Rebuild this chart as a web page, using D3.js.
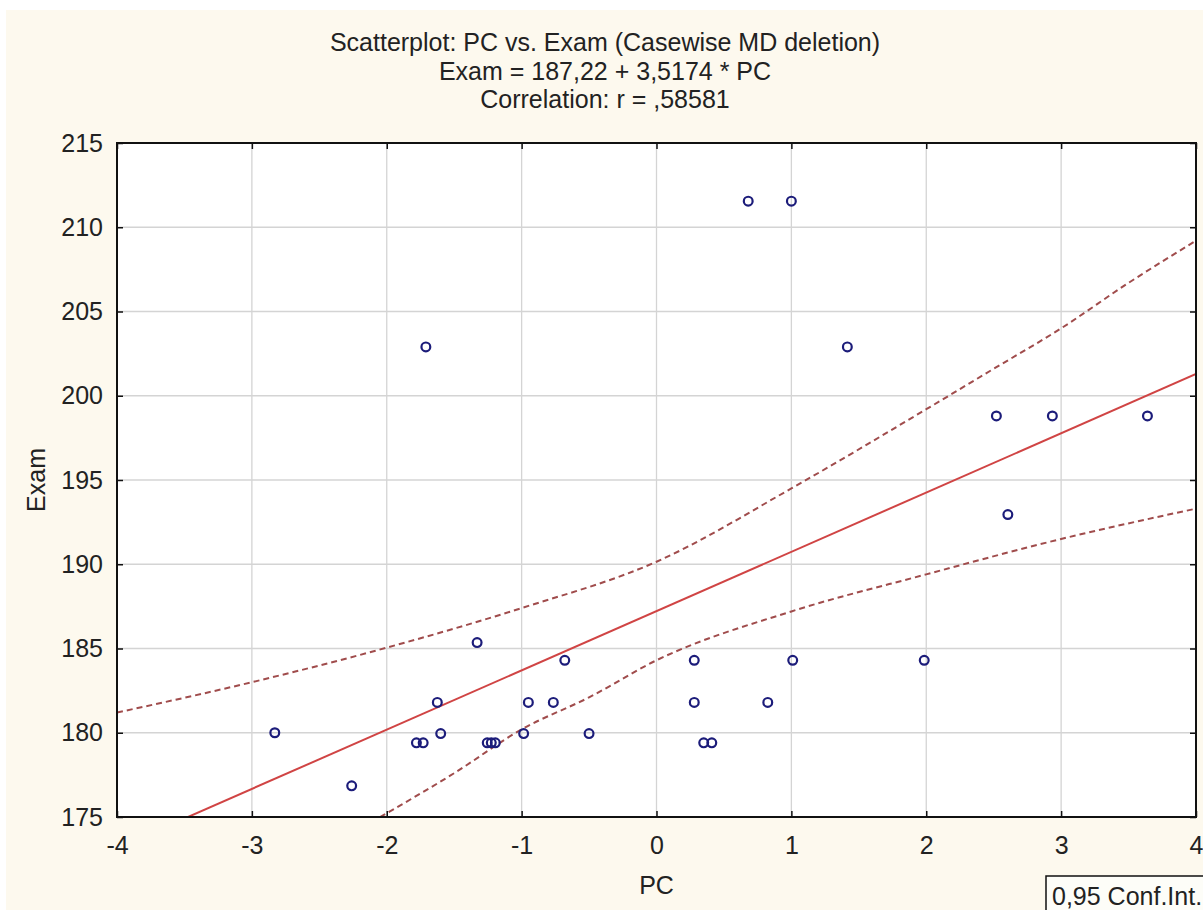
<!DOCTYPE html>
<html>
<head>
<meta charset="utf-8">
<script src="https://cdn.jsdelivr.net/npm/d3@7"></script>
<style>
  html, body { margin: 0; padding: 0; background: #ffffff; }
  svg { display: block; }
  text { font-family: "Liberation Sans", Arial, sans-serif; fill: #222; }
</style>
</head>
<body>
<script>
// ---- data ----
const pcValues   = [-2.83, -2.26, -1.71, -1.33, -1.625, -1.60, -1.78, -1.73, -1.255, -1.225, -1.195,
                    -0.95, -0.985, -0.765, -0.68, -0.50, 0.28, 0.28, 0.35, 0.41,
                     0.68, 1.00, 1.01, 0.825, 1.415, 1.985, 2.52, 2.605, 2.935, 3.64];
const examValues = [180.0, 176.85, 202.9, 185.35, 181.8, 179.95, 179.4, 179.4, 179.4, 179.4, 179.4,
                    181.8, 179.95, 181.8, 184.3, 179.95, 184.3, 181.8, 179.4, 179.4,
                    211.55, 211.55, 184.3, 181.8, 202.9, 184.3, 198.8, 192.95, 198.8, 198.8];
const intercept = 187.22;
const slope = 3.5174;
const upperBandX = [-4, -3, -2, -1, 0, 1, 2, 2.5, 3, 3.5, 4];
const upperBandY = [181.2, 183.0, 185.05, 187.4, 190.15, 194.5, 199.2, 201.6, 204.0, 206.7, 209.2];
const lowerBandX = [-2.05, -1.5, -1, -0.5, 0, 1, 2, 3, 4];
const lowerBandY = [175.0, 177.6, 180.2, 182.1, 184.3, 187.2, 189.4, 191.5, 193.3];
const xTicks = [-4, -3, -2, -1, 0, 1, 2, 3, 4];
const yTicks = [175, 180, 185, 190, 195, 200, 205, 210, 215];
const titleLines = ["Scatterplot: PC vs. Exam (Casewise MD deletion)",
                    "Exam = 187,22 + 3,5174 * PC",
                    "Correlation: r = ,58581"];
const xLabel = "PC", yLabel = "Exam", legendLabel = "0,95 Conf.Int.";

// ---- layout ----
const W = 1203, H = 910;
const FS = 25;
const plot = { left: 117, right: 1196, top: 143, bottom: 817 };
const svg = d3.select("body").append("svg").attr("width", W).attr("height", H);

svg.append("rect").attr("x", 6).attr("y", 10).attr("width", W - 6).attr("height", H - 10)
   .attr("fill", "#fdf9ee");

const x = d3.scaleLinear().domain([-4, 4]).range([plot.left, plot.right]);
const y = d3.scaleLinear().domain([175, 215]).range([plot.bottom, plot.top]);
const fmtComma = d => String(d).replace(".", ",");

svg.append("rect").attr("x", plot.left).attr("y", plot.top)
   .attr("width", plot.right - plot.left).attr("height", plot.bottom - plot.top)
   .attr("fill", "#ffffff");

// grid
const grid = svg.append("g");
grid.selectAll("line.vx").data(xTicks.slice(1, -1)).join("line")
   .attr("x1", d => x(d)).attr("x2", d => x(d)).attr("y1", plot.top).attr("y2", plot.bottom)
   .attr("stroke", "#d4d4d4").attr("stroke-width", 1.3);
grid.selectAll("line.hy").data(yTicks.slice(1, -1)).join("line")
   .attr("y1", d => y(d)).attr("y2", d => y(d)).attr("x1", plot.left).attr("x2", plot.right)
   .attr("stroke", "#d4d4d4").attr("stroke-width", 1.3);

// clip
svg.append("clipPath").attr("id", "clip").append("rect")
   .attr("x", plot.left).attr("y", plot.top)
   .attr("width", plot.right - plot.left).attr("height", plot.bottom - plot.top);
const inner = svg.append("g").attr("clip-path", "url(#clip)");

// confidence bands
const bandLine = d3.line().x(d => x(d[0])).y(d => y(d[1])).curve(d3.curveMonotoneX);
inner.append("path").datum(upperBandX.map((v, i) => [v, upperBandY[i]]))
   .attr("d", bandLine).attr("fill", "none").attr("stroke", "#a04c4c")
   .attr("stroke-width", 2).attr("stroke-dasharray", "6,4");
inner.append("path").datum(lowerBandX.map((v, i) => [v, lowerBandY[i]]))
   .attr("d", bandLine).attr("fill", "none").attr("stroke", "#a04c4c")
   .attr("stroke-width", 2).attr("stroke-dasharray", "6,4");

// regression line
inner.append("line")
   .attr("x1", x(-4)).attr("y1", y(intercept + slope * -4))
   .attr("x2", x(4)).attr("y2", y(intercept + slope * 4))
   .attr("stroke", "#d04444").attr("stroke-width", 2);

// points
svg.append("g").selectAll("circle").data(pcValues.map((v, i) => [v, examValues[i]])).join("circle")
   .attr("cx", d => x(d[0])).attr("cy", d => y(d[1])).attr("r", 4.4)
   .attr("fill", "none").attr("stroke", "#1c1c7a").attr("stroke-width", 2.2);

// frame
svg.append("rect").attr("x", plot.left).attr("y", plot.top)
   .attr("width", plot.right - plot.left).attr("height", plot.bottom - plot.top)
   .attr("fill", "none").attr("stroke", "#111").attr("stroke-width", 2);

// axes (ticks inside)
const xAxisB = d3.axisBottom(x).tickValues(xTicks).tickSize(-6).tickPadding(19).tickFormat(fmtComma);
const gx = svg.append("g").attr("transform", `translate(0,${plot.bottom})`).call(xAxisB);
const xAxisT = d3.axisTop(x).tickValues(xTicks).tickSize(-6).tickFormat("");
const gxt = svg.append("g").attr("transform", `translate(0,${plot.top})`).call(xAxisT);
const yAxisL = d3.axisLeft(y).tickValues(yTicks).tickSize(-6).tickPadding(14).tickFormat(fmtComma);
const gy = svg.append("g").attr("transform", `translate(${plot.left},0)`).call(yAxisL);
const yAxisR = d3.axisRight(y).tickValues(yTicks).tickSize(-6).tickFormat("");
const gyr = svg.append("g").attr("transform", `translate(${plot.right},0)`).call(yAxisR);
[gx, gxt, gy, gyr].forEach(g => {
  g.select(".domain").remove();
  g.selectAll(".tick line").attr("stroke", "#111").attr("stroke-width", 1.5);
  g.selectAll(".tick text").attr("font-size", FS).attr("fill", "#222")
   .attr("font-family", "Liberation Sans, Arial, sans-serif");
});

// titles
svg.append("g").selectAll("text").data(titleLines).join("text")
   .attr("x", 605).attr("y", (d, i) => 51 + i * 28.5)
   .attr("text-anchor", "middle").attr("font-size", FS).text(d => d);

svg.append("text").attr("x", x(0)).attr("y", 894).attr("text-anchor", "middle")
   .attr("font-size", FS).text(xLabel);
svg.append("text").attr("transform", `translate(45,${(plot.top + plot.bottom) / 2}) rotate(-90)`)
   .attr("text-anchor", "middle").attr("font-size", FS).text(yLabel);

// legend box
svg.append("rect").attr("x", 1046).attr("y", 876).attr("width", 170).attr("height", 50)
   .attr("fill", "#fdfdf8").attr("stroke", "#111").attr("stroke-width", 1.5);
svg.append("text").attr("x", 1052).attr("y", 905).attr("font-size", FS).text(legendLabel);
</script>
</body>
</html>
